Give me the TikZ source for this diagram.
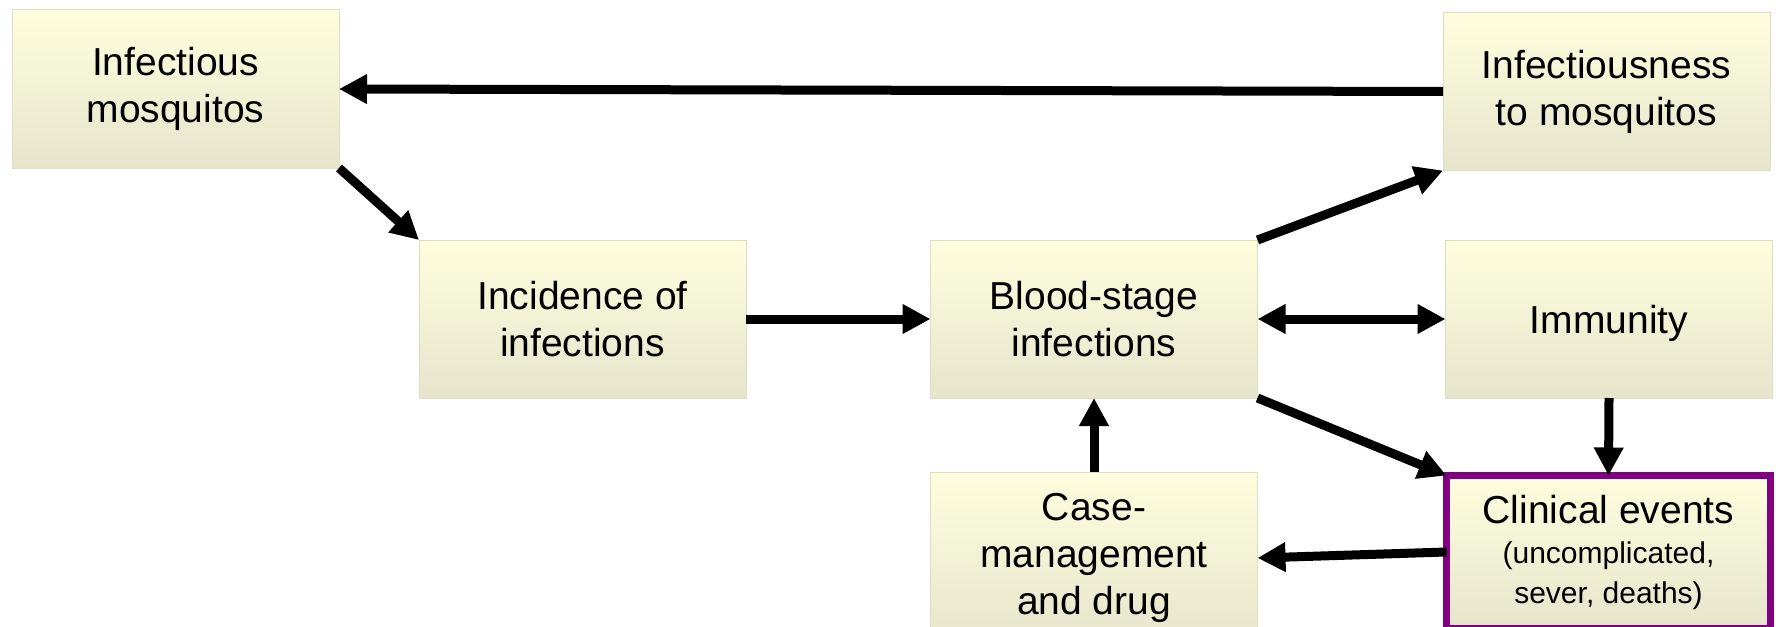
\documentclass[tikz,border=0pt]{standalone}
\usepackage{fontspec}
\setmainfont{Liberation Sans}
\usepackage{xcolor}
\usetikzlibrary{calc,arrows.meta}

\definecolor{boxtop}{RGB}{254,254,222}
\definecolor{boxbot}{RGB}{230,229,204}
\definecolor{boxline}{RGB}{222,221,198}
\definecolor{clinpurple}{RGB}{128,0,128}

\newcommand{\bigtxt}{\fontsize{19.5}{23.5}\selectfont}

\begin{document}
\begin{tikzpicture}[x=0.5pt,y=-0.5pt,
		box/.style={draw=boxline,line width=0.5pt,top color=boxtop,bottom color=boxbot,
			minimum width=163.5pt,minimum height=79pt,inner sep=0pt,outer sep=0pt,
			align=center,font=\bigtxt},
		clinbox/.style={box,draw=clinpurple,line width=3.5pt,minimum width=162pt,minimum height=76.5pt,
			font=\fontsize{15}{20}\selectfont},
		arr/.style={line width=4.5pt,-{Triangle[length=14pt,width=14pt]}},
		darr/.style={arr,{Triangle[length=14pt,width=14pt]}-{Triangle[length=14pt,width=14pt]}}]
				\useasboundingbox (0,0) rectangle (1776,626);
				\clip (0,0) rectangle (1776,626);
				
				%top row
				\node[box] (infmosq) at (175.5,89) {Infectious\\mosquitos};
				\node[box] (infness) at (1606.5,91.5) {Infectiousness\\to mosquitos};
				
				%middle row
				\node[box] (incid) at (582.5,319) {Incidence of\\infections};
				\node[box] (blood) at (1094,319) {Blood-stage\\infections};
				\node[box,text depth=0pt] (immun) at (1609,319) {Immunity};
				
				%bottom row (runs off the page)
				\node[box,minimum height=86pt] (casemg) at (1094,558) {Case-\\management\\and drug};
				\node[clinbox] (clinic) at (1608.5,552) {{\bigtxt Clinical events}\\(uncomplicated,\\sever, deaths)};
				
				%arrows
				\draw[arr] (infness.west) -- (infmosq.east);
				\draw[arr] (infmosq.south east) -- (incid.north west);
				\draw[arr] (incid.east) -- (blood.west);
				\draw[arr] (blood.north east) -- (infness.south west);
				\draw[darr] (blood.east) -- (immun.west);
				\draw[arr] (blood.south east) -- (clinic.north west);
				\draw[arr] (immun.south) -- (clinic.north);
				\draw[arr] (casemg.north) -- (blood.south);
				\draw[arr] (clinic.west) -- (casemg.east);
			
			\end{tikzpicture}
\end{document}
